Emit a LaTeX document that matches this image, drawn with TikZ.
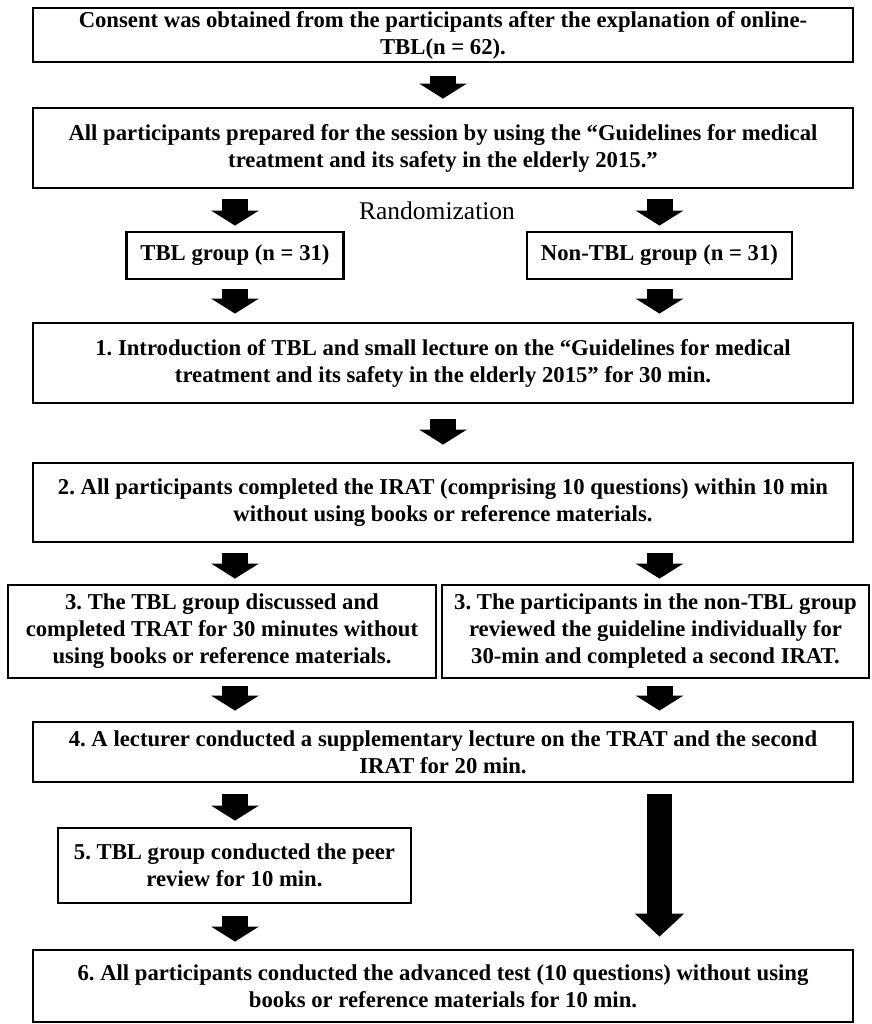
\documentclass[tikz,border=0pt]{standalone}
\usepackage{fontspec}
\setmainfont{Liberation Serif}
\usetikzlibrary{arrows.meta}
\frenchspacing
\tikzset{
  box/.style={draw, line width=2.8pt, align=center, inner sep=2pt,
    font=\fontsize{22.7pt}{27pt}\selectfont\bfseries},
  arr/.style={line width=26pt, -{Triangle[width=47pt,length=15pt]}},
  longarr/.style={line width=25pt, -{Triangle[width=48pt,length=23pt]}}
}

\begin{document}
\begin{tikzpicture}[node distance = 100pt]
    \useasboundingbox[fill=white] (0,0) rectangle (871pt,-1024pt);

	\node[box, minimum width=820pt, minimum height=54pt] (consent) at (443pt,-35pt)
      {Consent was obtained from the participants after the explanation of online-\\TBL(n = 62).};
	\node[box, below of=consent, node distance=113pt, minimum width=820pt, minimum height=80pt] (prep)
      {All participants prepared for the session by using the “Guidelines for medical\\treatment and its safety in the elderly 2015.”};
    \draw[arr, shorten <=13pt, shorten >=8pt] (consent) -- (prep);

	\node[below of=prep, node distance=63pt, xshift=-6pt, font=\fontsize{25.5pt}{30pt}\selectfont] (rand) {Randomization};
	\node[box, below of=prep, node distance=107.5pt, xshift=-208pt, minimum width=217pt, minimum height=47pt] (tbl)
      {TBL group (n = 31)};
	\node[box, below of=prep, node distance=107.5pt, xshift=216.5pt, minimum width=265pt, minimum height=47pt] (nontbl)
      {Non-TBL group (n = 31)};
    \draw[arr, shorten <=10pt, shorten >=5pt] (prep.south -| tbl) -- (tbl);
    \draw[arr, shorten <=10pt, shorten >=5pt] (prep.south -| nontbl) -- (nontbl);

	\node[box, below of=prep, node distance=215pt, minimum width=820pt, minimum height=80pt] (intro)
      {1. Introduction of TBL and small lecture on the “Guidelines for medical\\treatment and its safety in the elderly 2015” for 30 min.};
    \draw[arr, shorten <=9pt, shorten >=8pt] (tbl) -- (tbl |- intro.north);
    \draw[arr, shorten <=9pt, shorten >=8pt] (nontbl) -- (nontbl |- intro.north);

	\node[box, below of=intro, node distance=139.5pt, minimum width=820pt, minimum height=79pt] (irat)
      {2. All participants completed the IRAT (comprising 10 questions) within 10 min\\without using books or reference materials.};
    \draw[arr, shorten <=15pt, shorten >=17pt] (intro) -- (irat);

	\node[box, below of=irat, node distance=129pt, xshift=-221pt, minimum width=428pt, minimum height=93pt] (trat)
      {3. The TBL group discussed and\\completed TRAT for 30 minutes without\\using books or reference materials.};
	\node[box, below of=irat, node distance=129pt, xshift=212.5pt, minimum width=427pt, minimum height=93pt] (review)
      {3. The participants in the non-TBL group\\reviewed the guideline individually for\\30-min and completed a second IRAT.};
    \draw[arr, shorten <=10pt, shorten >=5pt] (irat.south -| tbl) -- (trat.north -| tbl);
    \draw[arr, shorten <=10pt, shorten >=5pt] (irat.south -| nontbl) -- (review.north -| nontbl);

	\node[box, below of=irat, node distance=249.5pt, minimum width=820pt, minimum height=60pt] (lect)
      {4. A lecturer conducted a supplementary lecture on the TRAT and the second\\IRAT for 20 min.};
    \draw[arr, shorten <=7pt, shorten >=10pt] (trat.south -| tbl) -- (lect.north -| tbl);
    \draw[arr, shorten <=7pt, shorten >=10pt] (review.south -| nontbl) -- (lect.north -| nontbl);

	\node[box, below of=lect, node distance=113.5pt, xshift=-208.5pt, minimum width=353pt, minimum height=75pt] (peer)
      {5. TBL group conducted the peer\\review for 10 min.};
	\node[box, below of=lect, node distance=234pt, minimum width=820pt, minimum height=72pt] (adv)
      {6. All participants conducted the advanced test (10 questions) without using\\books or reference materials for 10 min.};
    \draw[arr, shorten <=11pt, shorten >=6pt] (lect.south -| tbl) -- (peer.north -| tbl);
    \draw[longarr, shorten <=11pt, shorten >=12pt] (lect.south -| nontbl) -- (adv.north -| nontbl);
    \draw[arr, shorten <=12pt, shorten >=7pt] (peer.south -| tbl) -- (adv.north -| tbl);
\end{tikzpicture}
\end{document}
